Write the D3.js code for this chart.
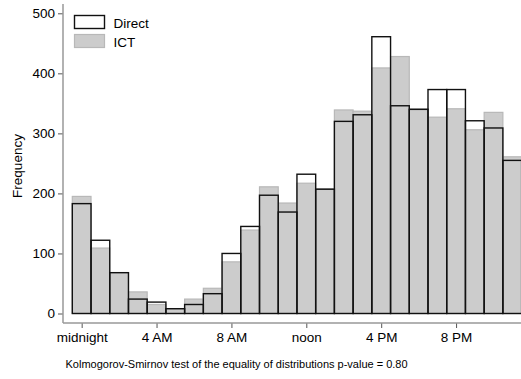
<!DOCTYPE html>
<html>
<head>
<meta charset="utf-8">
<script src="https://cdn.jsdelivr.net/npm/d3@7"></script>
<style>
    body { margin: 0; background: #fff; }
    svg { display: block; font-family: "Liberation Sans", Arial, sans-serif; }
</style>
</head>
<body>
<svg id="chart" width="521" height="379"></svg>
<script>
// hour of day, 0 = midnight
var hours = d3.range(24);
var direct = [183, 122, 68, 24, 19, 8, 15, 33, 100, 145, 197, 169, 232, 207, 320, 331, 461, 346, 340, 373, 373, 321, 309, 255];
var ict = [195, 109, 68, 36, 15, 7, 24, 42, 86, 139, 211, 184, 217, 208, 339, 337, 409, 428, 341, 327, 341, 306, 335, 261];
var xTicks = [0, 4, 8, 12, 16, 20],
    xTickLabels = ["midnight", "4 AM", "8 AM", "noon", "4 PM", "8 PM"];
var yTicks = [0, 100, 200, 300, 400, 500];
var note = "Kolmogorov-Smirnov test of the equality of distributions p-value = 0.80";

function draw() {
    var svg = d3.select("#chart"),
        axisLeftX = 63, axisBottomY = 323;

    var x = d3.scaleLinear().domain([-0.5, 23.5]).range([72.3, 521.6]),
        y = d3.scaleLinear().domain([0, 500]).range([313.5, 13.3]);

    // ICT first, grey
    svg.append("g").selectAll("rect")
        .data(hours).enter().append("rect")
        .attr("x", h => x(h - 0.5))
        .attr("width", x(1) - x(0))
        .attr("y", h => y(ict[h]))
        .attr("height", h => y(0) - y(ict[h]))
        .attr("fill", "#cccccc")
        .attr("stroke", "#b8b8b8")
        .attr("stroke-width", 1.2);

    // Direct as outlines on top
    svg.append("g").selectAll("rect")
        .data(hours).enter().append("rect")
        .attr("x", h => x(h - 0.5))
        .attr("width", x(1) - x(0))
        .attr("y", h => y(direct[h]))
        .attr("height", h => y(0) - y(direct[h]))
        .attr("fill", "none")
        .attr("stroke", "#111")
        .attr("stroke-width", 1.4);

    // y axis
    var yAxis = svg.append("g").attr("transform", "translate(" + [axisLeftX, 0] + ")")
        .call(d3.axisLeft(y).tickValues(yTicks).tickSize(5).tickPadding(3));
    yAxis.select(".domain").remove();
    yAxis.append("line").attr("x1", 0).attr("x2", 0).attr("y1", 4).attr("y2", axisBottomY)
        .attr("stroke", "#999").attr("stroke-width", 1.5);
    yAxis.selectAll(".tick line").attr("stroke", "#555");
    yAxis.selectAll(".tick text").attr("fill", "#000").style("font-size", "13.5px")
        .style("font-family", "'Liberation Sans', Arial, sans-serif");

    // x axis
    var xAxis = svg.append("g").attr("transform", "translate(" + [0, axisBottomY] + ")")
        .call(d3.axisBottom(x).tickValues(xTicks).tickFormat((d, i) => xTickLabels[i]).tickSize(5).tickPadding(4));
    xAxis.select(".domain").remove();
    xAxis.append("line").attr("x1", axisLeftX).attr("x2", 521).attr("y1", 0).attr("y2", 0)
        .attr("stroke", "#999").attr("stroke-width", 1.5);
    xAxis.selectAll(".tick line").attr("stroke", "#555");
    xAxis.selectAll(".tick text").attr("fill", "#000").style("font-size", "13.5px")
        .style("font-family", "'Liberation Sans', Arial, sans-serif");

    svg.append("text").attr("transform", "translate(22,166) rotate(-90)")
        .attr("text-anchor", "middle").style("font-size", "13.5px").text("Frequency");

    // legend
    var legend = svg.append("g");
    legend.append("rect").attr("x", 74.5).attr("y", 15.5).attr("width", 30).attr("height", 13)
        .attr("fill", "#fff").attr("stroke", "#111").attr("stroke-width", 1.4);
    legend.append("rect").attr("x", 74.5).attr("y", 34.5).attr("width", 30).attr("height", 13)
        .attr("fill", "#cccccc").attr("stroke", "#b8b8b8").attr("stroke-width", 1.2);
    legend.append("text").attr("x", 113.5).attr("y", 23).attr("dy", "0.35em").style("font-size", "13.5px").text("Direct");
    legend.append("text").attr("x", 113.5).attr("y", 42.5).attr("dy", "0.35em").style("font-size", "13.5px").text("ICT");

    svg.append("text").attr("x", 65.5).attr("y", 364).attr("dy", "0.35em")
        .style("font-size", "11px").text(note);
}

draw();
</script>
</body>
</html>
